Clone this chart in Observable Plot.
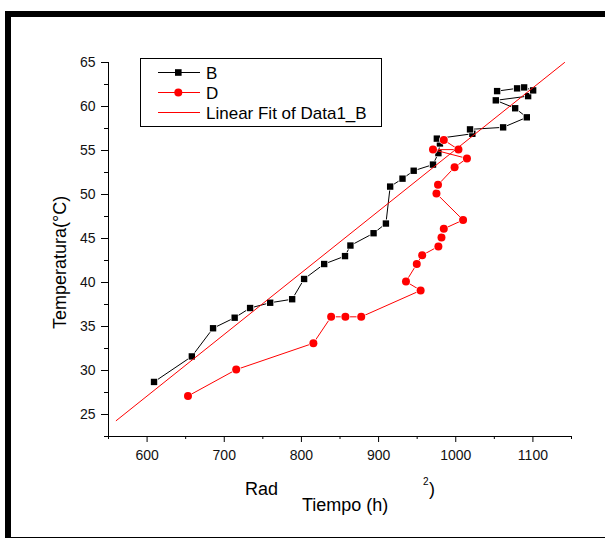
<!DOCTYPE html>
<html>
<head>
<meta charset="utf-8">
<script src="https://cdn.jsdelivr.net/npm/d3@7"></script>
<script src="https://cdn.jsdelivr.net/npm/@observablehq/plot@0.6"></script>
<style>
  html, body { margin: 0; padding: 0; background: #fff; overflow: hidden; }
  #wrap { position: relative; width: 605px; height: 538px; overflow: hidden; }
  #border { position: absolute; left: 5px; top: 11px; width: 610px; height: 520px; border: 6px solid #000; pointer-events: none; }
  #chart { position: absolute; left: 0; top: 0; }
</style>
</head>
<body>
<div id="wrap"><div id="chart"></div><div id="border"></div></div>
<script>
// Series B (black squares), in data order
const bX = [609, 658, 685.5, 713.5, 733.5, 759.5, 788, 803.5, 829.5, 856.5, 863.5, 893.5, 909.5, 915, 931, 945.5, 970.5, 977.5, 979.5, 975.5, 1021.5, 1018.5, 1061.4, 1092.1, 1077, 1051.9, 1093.8, 1100.3, 1088.6, 1079.5, 1053.6];
const bY = [28.7, 31.6, 34.8, 36.0, 37.1, 37.7, 38.1, 40.4, 42.1, 43.0, 44.2, 45.6, 46.7, 50.9, 51.8, 52.7, 53.4, 54.7, 55.8, 56.35, 56.9, 57.4, 57.63, 58.77, 59.8, 60.7, 61.18, 61.83, 62.17, 62.06, 61.75];
// Series D (red circles), in data order
const dX = [653, 715.5, 815.5, 838.5, 857, 877.5, 954.5, 935.5, 949.5, 956.5, 977.5, 981.5, 984.5, 1009.5, 975, 977, 998.5, 1014.5, 970.5, 1003.5, 984.5];
const dY = [27.1, 30.1, 33.1, 36.1, 36.1, 36.1, 39.1, 40.1, 42.1, 43.1, 44.1, 45.1, 46.1, 47.1, 50.1, 51.1, 53.1, 54.1, 55.1, 55.1, 56.2];
// Linear fit of B (end points)
const fitX = [560, 1141];
const fitY = [24.3, 65.0];
// Ticks
const xMajor = [600, 700, 800, 900, 1000, 1100];
const xMinor = [550, 650, 750, 850, 950, 1050, 1150];
const yMajor = [25, 30, 35, 40, 45, 50, 55, 60, 65];
const yMinor = [22.5, 27.5, 32.5, 37.5, 42.5, 47.5, 52.5, 57.5, 62.5];
// Legend
const legendLabels = ["B", "D", "Linear Fit of Data1_B"];

const B = bX.map((x, i) => ({x, y: bY[i]}));
const D = dX.map((x, i) => ({x, y: dY[i]}));
const F = fitX.map((x, i) => ({x, y: fitY[i]}));

const font = "'Liberation Sans', Arial, sans-serif";

const plot = Plot.plot({
  width: 605,
  height: 538,
  marginLeft: 108,
  marginRight: 34,
  marginTop: 62,
  marginBottom: 102,
  style: {fontFamily: font, fontSize: "14px", background: "#fff", color: "#000"},
  x: {domain: [550, 1150], label: null},
  y: {domain: [22.5, 65], label: null},
  marks: [
    Plot.axisX(xMinor, {tickSize: 3, text: null, label: null}),
    Plot.axisX(xMajor, {tickSize: 6, tickPadding: 8, fontSize: 14, label: null, tickFormat: d => String(d), fill: "#111"}),
    Plot.axisY(yMinor, {tickSize: 4, text: null, label: null}),
    Plot.axisY(yMajor, {tickSize: 7, tickPadding: 6, fontSize: 14, label: null, tickFormat: d => String(d), fill: "#111"}),
    Plot.ruleY([22.5], {stroke: "#000", strokeWidth: 1}),
    Plot.ruleX([550], {stroke: "#000", strokeWidth: 1}),
    Plot.line(B, {x: "x", y: "y", stroke: "#000", strokeWidth: 1}),
    Plot.dot(B, {x: "x", y: "y", symbol: "square", r: 3.6, fill: "#000", stroke: "#fff", strokeWidth: 1.5, paintOrder: "stroke"}),
    Plot.line(D, {x: "x", y: "y", stroke: "#ff0000", strokeWidth: 1}),
    Plot.dot(D, {x: "x", y: "y", symbol: "circle", r: 4, fill: "#ff0000", stroke: "#fff", strokeWidth: 1.5, paintOrder: "stroke"}),
    Plot.line(F, {x: "x", y: "y", stroke: "#ff0000", strokeWidth: 1})
  ]
});
document.getElementById("chart").appendChild(plot);

const svg = d3.select(plot);
const addText = (x, y, size, str) => svg.append("text").attr("x", x).attr("y", y)
  .attr("text-anchor", "start").attr("font-family", font).attr("font-size", size).attr("fill", "#000").text(str);
// Axis titles
addText(245, 495, 18, "Rad");
addText(302, 511, 18, "Tiempo (h)");
addText(423, 485, 10, "2");
addText(429, 495, 18, ")");
svg.append("text").attr("transform", "translate(66,262.5) rotate(-90)").attr("text-anchor", "middle")
  .attr("font-family", font).attr("font-size", 18).attr("fill", "#000").text("Temperatura(°C)");

// Legend
const lg = svg.append("g");
lg.append("rect").attr("x", 140.5).attr("y", 58.5).attr("width", 241).attr("height", 68).attr("fill", "#fff").attr("stroke", "#000").attr("stroke-width", 1);
const rows = [72.5, 92.5, 112.5];
const colors = ["#000", "#ff0000", "#ff0000"];
rows.forEach((yy, i) => {
  lg.append("line").attr("x1", 158).attr("x2", 200).attr("y1", yy).attr("y2", yy).attr("stroke", colors[i]).attr("stroke-width", 1);
  if (i === 0) lg.append("rect").attr("x", 175).attr("y", yy - 3.3).attr("width", 6.6).attr("height", 6.6).attr("fill", "#000");
  if (i === 1) lg.append("circle").attr("cx", 178.3).attr("cy", yy).attr("r", 4).attr("fill", "#ff0000");
  lg.append("text").attr("x", 206).attr("y", yy + 6).attr("text-anchor", "start").attr("font-family", font)
    .attr("font-size", 17).attr("fill", "#000").text(legendLabels[i]);
});
</script>
</body>
</html>
